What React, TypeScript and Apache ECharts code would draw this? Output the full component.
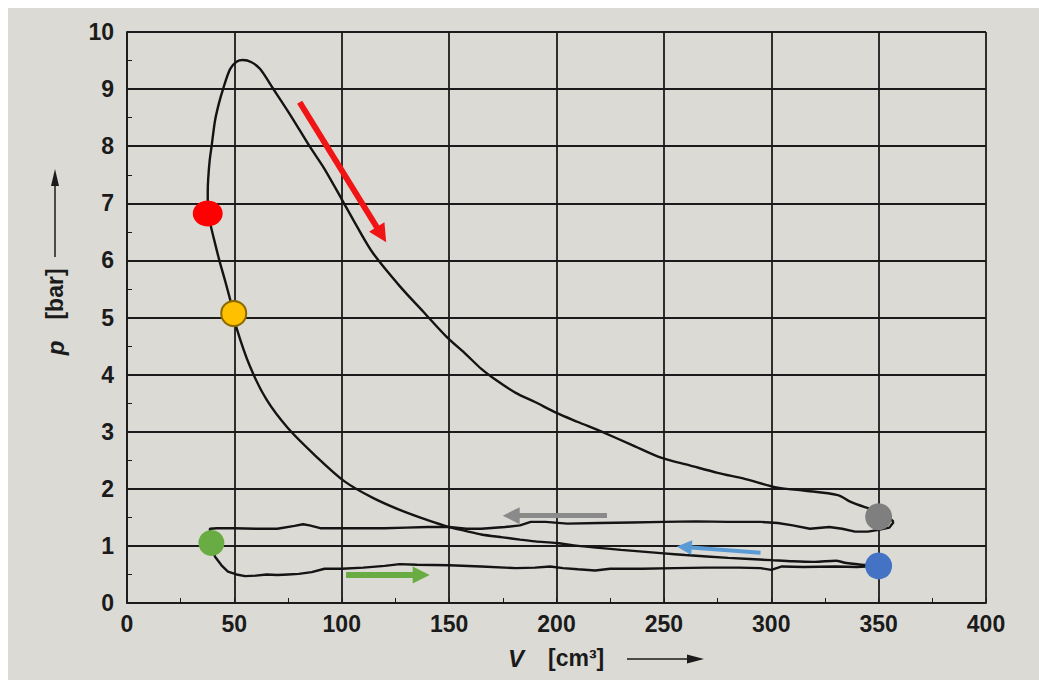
import React, { useEffect, useRef } from "react";
import * as echarts from "echarts";

// ---- data (V in cm³, p in bar) ----
const xTicks = [0, 50, 100, 150, 200, 250, 300, 350, 400];
const yTicks = [0, 1, 2, 3, 4, 5, 6, 7, 8, 9, 10];

const intake: number[][] = [
  [39.3, 1.05], [40, 0.92], [41, 0.81], [44, 0.66], [47, 0.55], [51, 0.5], [55, 0.47],
  [60, 0.48], [65, 0.5], [70, 0.49], [75, 0.5], [80, 0.51], [86, 0.54], [92, 0.6],
  [100, 0.6], [110, 0.62], [120, 0.65], [127, 0.68], [135, 0.67], [150, 0.66],
  [165, 0.64], [181, 0.61], [190, 0.62], [197, 0.64], [203, 0.61], [210, 0.59],
  [218, 0.57], [225, 0.6], [240, 0.6], [255, 0.61], [270, 0.62], [285, 0.62],
  [295, 0.61], [300, 0.58], [305, 0.64], [315, 0.63], [330, 0.64], [340, 0.63], [350, 0.65],
];

const compression: number[][] = [
  [350, 0.65], [345, 0.66], [335, 0.7], [330, 0.74], [320, 0.72], [310, 0.73],
  [300, 0.75], [280, 0.79], [260, 0.84], [250, 0.87], [230, 0.93], [210, 1.0],
  [200, 1.05], [190, 1.08], [183, 1.11], [175, 1.15], [165, 1.2], [158, 1.26],
  [150, 1.33], [140, 1.45], [127, 1.63], [114.5, 1.84], [101.3, 2.13], [88, 2.57],
  [75, 3.06], [65, 3.56], [57.2, 4.15], [51, 4.82], [49.7, 5.07], [46, 5.6],
  [43, 6.0], [40, 6.45], [37.6, 6.82],
];

const expansion: number[][] = [
  [37.6, 6.82], [37.6, 7.2], [37.8, 7.42], [38.5, 7.75], [39.4, 8.0], [41, 8.45],
  [42.8, 8.75], [44.8, 9.01], [48, 9.35], [51, 9.48], [54, 9.51], [58, 9.47],
  [62, 9.35], [68, 9.01], [76, 8.55], [85, 8.0], [92, 7.6], [100, 7.07], [107, 6.6],
  [114.5, 6.13], [127, 5.55], [138, 5.1], [148.6, 4.67], [158, 4.35], [165, 4.1],
  [172, 3.9], [181, 3.68], [190, 3.52], [200, 3.33], [210, 3.17], [221, 3.0],
  [235, 2.77], [249, 2.54], [262, 2.41], [275, 2.28], [288, 2.17], [303, 2.02],
  [315, 1.97], [331, 1.89], [337, 1.77], [345, 1.66], [350, 1.6], [354, 1.52], [357, 1.42],
];

const exhaust: number[][] = [
  [357, 1.42], [355, 1.32], [350, 1.28], [345, 1.25], [339, 1.25], [333, 1.3],
  [327, 1.33], [318, 1.3], [310, 1.36], [303, 1.4], [295, 1.42], [280, 1.42],
  [265, 1.43], [250, 1.42], [235, 1.41], [220, 1.4], [205, 1.39], [195, 1.42],
  [188, 1.42], [183, 1.36], [176, 1.33], [165, 1.3], [158, 1.3], [150, 1.33],
  [140, 1.33], [130, 1.32], [120, 1.31], [110, 1.31], [100, 1.31], [90, 1.31],
  [85, 1.36], [82, 1.38], [78, 1.35], [70, 1.3], [60, 1.3], [50, 1.31], [42, 1.31],
  [38.6, 1.3], [38.8, 1.18], [39.3, 1.05],
];

// marker dots: [V, p]
const redDot = [37.6, 6.82];
const yellowDot = [49.7, 5.07];
const greenDot = [39.3, 1.05];
const grayDot = [350, 1.51];
const blueDot = [350, 0.65];

// direction arrows: [[fromV, fromP], [toV, toP]] (to = centre of the arrow head)
const redArrow = [[80.4, 8.77], [118.5, 6.45]];
const grayArrow = [[223.5, 1.53], [178.9, 1.53]];
const blueArrow = [[295, 0.88], [259.5, 0.98]];
const greenArrow = [[102, 0.49], [137, 0.49]];

const FONT = "'Liberation Sans', Arial, sans-serif";
const INK = "#1b1b1b";

export default function App() {
  const ref = useRef<HTMLDivElement>(null);

  useEffect(() => {
    if (!ref.current) return;
    const chart = echarts.init(ref.current, undefined, { renderer: "svg" });

    const curve = (data: number[][], smooth: number | boolean) => ({
      type: "line",
      data,
      showSymbol: false,
      smooth,
      lineStyle: { color: "#141414", width: 2.4 },
      silent: true,
      z: 3,
    });

    const arrow = (pts: number[][], color: string, width: number, size: number[]) => ({
      type: "lines",
      coordinateSystem: "cartesian2d",
      symbol: ["none", "triangle"],
      symbolSize: size,
      lineStyle: { color, width, opacity: 1 },
      data: [{ coords: pts }],
      z: 4,
    });

    const dot = (pt: number[], color: string, size: number | number[], border?: string) => ({
      type: "scatter",
      data: [pt],
      symbolSize: size,
      itemStyle: { color, opacity: 1, borderColor: border || color, borderWidth: border ? 2 : 0 },
      z: 5,
    });

    chart.setOption({
      animation: false,
      backgroundColor: "transparent",
      grid: { left: 119, right: 53, top: 24, bottom: 77 },
      xAxis: {
        type: "value",
        min: xTicks[0],
        max: xTicks[xTicks.length - 1],
        interval: 50,
        axisLine: { show: true, lineStyle: { color: INK, width: 1.8 } },
        axisTick: { show: true, inside: true, length: 5, lineStyle: { color: INK } },
        minorTick: { show: true, splitNumber: 2, length: 5, lineStyle: { color: INK } },
        splitLine: { show: true, lineStyle: { color: INK, width: 1.8 } },
        axisLabel: {
          color: INK,
          fontSize: 23,
          fontWeight: "bold",
          fontFamily: FONT,
          margin: 9,
        },
      },
      yAxis: {
        type: "value",
        min: yTicks[0],
        max: yTicks[yTicks.length - 1],
        interval: 1,
        axisLine: { show: true, lineStyle: { color: INK, width: 1.8 } },
        axisTick: { show: true, inside: true, length: 5, lineStyle: { color: INK } },
        minorTick: { show: true, splitNumber: 2, length: 5, lineStyle: { color: INK } },
        splitLine: { show: true, lineStyle: { color: INK, width: 1.8 } },
        axisLabel: {
          color: INK,
          fontSize: 23,
          fontWeight: "bold",
          fontFamily: FONT,
          margin: 13,
        },
      },
      series: [
        curve(intake, false),
        curve(compression, 0.3),
        curve(expansion, 0.3),
        curve(exhaust, false),
        arrow(redArrow, "#f01414", 6, [19, 18]),
        arrow(grayArrow, "#8a8a8a", 5, [16, 17]),
        arrow(blueArrow, "#5b9bd5", 4, [14, 15]),
        arrow(greenArrow, "#6aac44", 6, [17, 17]),
        dot(redDot, "#ff0000", [30, 26]),
        dot(yellowDot, "#ffc000", 25, "#8a6a00"),
        dot(greenDot, "#6aac44", 26),
        dot(grayDot, "#7f7f7f", 27),
        dot(blueDot, "#4472c4", 27),
      ],
      graphic: [
        // y axis title: p [bar] with arrow
        {
          type: "text",
          x: 47,
          y: 340,
          rotation: Math.PI / 2,
          style: {
            text: "p",
            font: `italic bold 24px ${FONT}`,
            fill: INK,
            align: "center",
            verticalAlign: "middle",
          },
        },
        {
          type: "text",
          x: 47,
          y: 286,
          rotation: Math.PI / 2,
          style: {
            text: "[bar]",
            font: `bold 23px ${FONT}`,
            fill: INK,
            align: "center",
            verticalAlign: "middle",
          },
        },
        {
          type: "line",
          shape: { x1: 47, y1: 249, x2: 47, y2: 172 },
          style: { stroke: INK, lineWidth: 1.5 },
        },
        {
          type: "polygon",
          shape: { points: [[47, 161], [43, 178], [51, 178]] },
          style: { fill: INK },
        },
        // x axis title: V [cm³] with arrow
        {
          type: "text",
          x: 508,
          y: 650,
          style: {
            text: "V",
            font: `italic bold 24px ${FONT}`,
            fill: INK,
            align: "center",
            verticalAlign: "middle",
          },
        },
        {
          type: "text",
          x: 540,
          y: 650,
          style: {
            text: "[cm³]",
            font: `bold 23px ${FONT}`,
            fill: INK,
            align: "left",
            verticalAlign: "middle",
          },
        },
        {
          type: "line",
          shape: { x1: 619, y1: 651, x2: 684, y2: 651 },
          style: { stroke: INK, lineWidth: 1.5 },
        },
        {
          type: "polygon",
          shape: { points: [[696, 651], [679, 646.5], [679, 655.5]] },
          style: { fill: INK },
        },
      ],
    });

    return () => chart.dispose();
  }, []);

  return (
    <div
      ref={ref}
      style={{
        position: "absolute",
        left: 8,
        top: 8,
        width: 1031,
        height: 672,
        background: "#dcdad5",
      }}
    />
  );
}
